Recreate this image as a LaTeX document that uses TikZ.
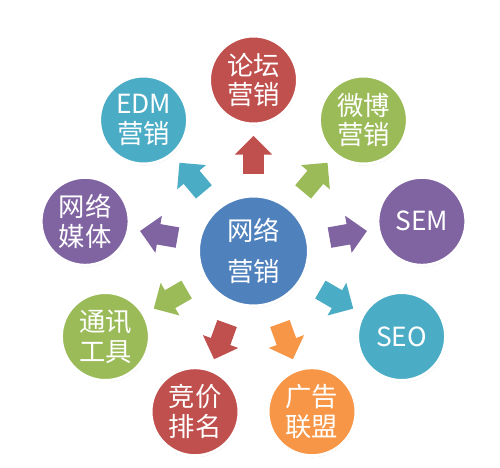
\documentclass[tikz,border=0pt]{standalone}
\usepackage{fontspec}
\setmainfont{Noto Sans CJK SC}
\usetikzlibrary{shapes.arrows,shadows}
\definecolor{mkblue}{HTML}{4F81BD}
\definecolor{mkred}{HTML}{C0504D}
\definecolor{mkgreen}{HTML}{9BBB59}
\definecolor{mkpurple}{HTML}{8064A2}
\definecolor{mkteal}{HTML}{4BACC6}
\definecolor{mkorange}{HTML}{F79646}
\begin{document}
\begin{tikzpicture}[x=0.02cm,y=0.02cm,
    bubble/.style={circle, draw=white, line width=1.7pt, minimum size=1.76cm, inner sep=0pt,
        text=white, align=center, font=\fontsize{15}{17}\selectfont,
        drop shadow={shadow xshift=0.4pt, shadow yshift=-0.8pt, opacity=0.3}},
    blockarrow/.style={single arrow, draw=none, minimum height=0.76cm,
        inner xsep=0pt, inner ysep=0.2cm, single arrow head extend=0.17cm}]
    \useasboundingbox (-253.5,-216) rectangle (246.5,251);
    \node[bubble, fill=mkblue, minimum size=2.2cm, font=\fontsize{15}{23}\selectfont] (net) at (0,0) {网络\\营销};
    \node[bubble, fill=mkred] (bbs) at (90:171) {论坛\\营销};
    \node[bubble, fill=mkgreen] (weibo) at (50:171) {微博\\营销};
    \node[bubble, fill=mkpurple] (sem) at (10:171) {SEM};
    \node[bubble, fill=mkteal] (seo) at (-30:171) {SEO};
    \node[bubble, fill=mkorange] (ads) at (-70:171) {广告\\联盟};
    \node[bubble, fill=mkred] (bid) at (-110:171) {竞价\\排名};
    \node[bubble, fill=mkgreen] (im) at (-150:171) {通讯\\工具};
    \node[bubble, fill=mkpurple] (media) at (170:171) {网络\\媒体};
    \node[bubble, fill=mkteal] (edm) at (130:171) {EDM\\营销};
    \node[blockarrow, fill=mkred, rotate=90] (tobbs) at (90:91) {};
    \node[blockarrow, fill=mkgreen, rotate=50] (toweibo) at (50:91) {};
    \node[blockarrow, fill=mkpurple, rotate=10] (tosem) at (10:91) {};
    \node[blockarrow, fill=mkteal, rotate=-30] (toseo) at (-30:91) {};
    \node[blockarrow, fill=mkorange, rotate=-70] (toads) at (-70:91) {};
    \node[blockarrow, fill=mkred, rotate=-110] (tobid) at (-110:91) {};
    \node[blockarrow, fill=mkgreen, rotate=-150] (toim) at (-150:91) {};
    \node[blockarrow, fill=mkpurple, rotate=170] (tomedia) at (170:91) {};
    \node[blockarrow, fill=mkteal, rotate=130] (toedm) at (130:91) {};
\end{tikzpicture}
\end{document}
